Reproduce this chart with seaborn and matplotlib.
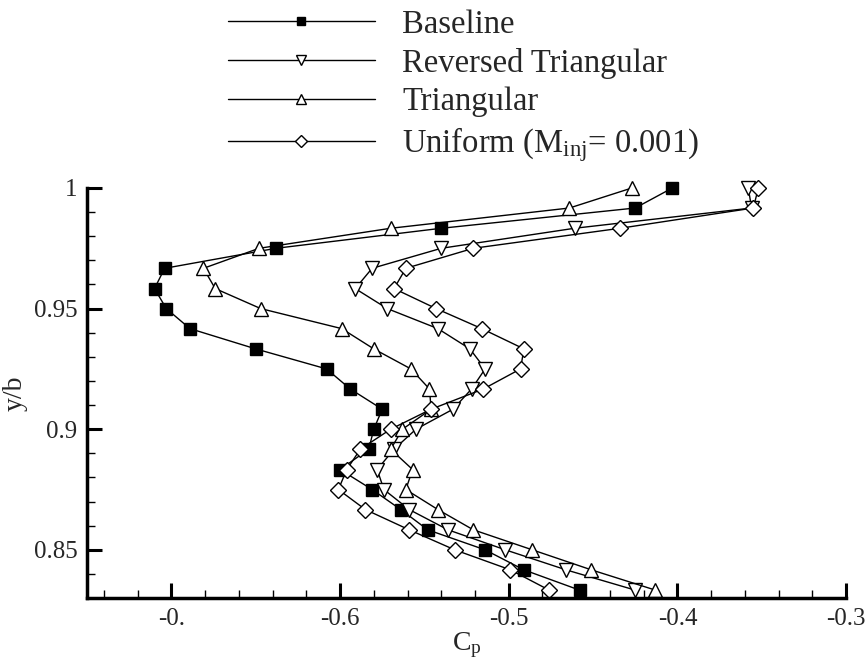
import matplotlib
matplotlib.use("Agg")
import matplotlib.pyplot as plt
import seaborn as sns
import numpy as np
import pandas as pd
from matplotlib.ticker import MultipleLocator, FixedLocator

# ---- data ----
y_b = [1.0, 0.9917, 0.9833, 0.975, 0.9667, 0.9583, 0.95, 0.9417, 0.9333, 0.925,
       0.9167, 0.9083, 0.9, 0.8917, 0.8833, 0.875, 0.8667, 0.8583, 0.85, 0.8417, 0.8333]

cp_baseline = [-0.403, -0.425, -0.540, -0.638, -0.704, -0.710, -0.703, -0.689, -0.650, -0.608,
               -0.594, -0.575, -0.580, -0.583, -0.600, -0.581, -0.564, -0.548, -0.514, -0.491, -0.458]
cp_reversed = [-0.358, -0.356, -0.461, -0.540, -0.581, -0.591, -0.572, -0.542, -0.523, -0.514,
               -0.522, -0.533, -0.555, -0.568, -0.578, -0.574, -0.559, -0.536, -0.502, -0.466, -0.425]
cp_triangular = [-0.427, -0.464, -0.570, -0.648, -0.681, -0.674, -0.647, -0.599, -0.580, -0.558,
                 -0.547, -0.546, -0.563, -0.570, -0.557, -0.561, -0.542, -0.521, -0.486, -0.451, -0.413]
cp_uniform = [-0.352, -0.355, -0.434, -0.521, -0.561, -0.568, -0.543, -0.516, -0.491, -0.493,
              -0.515, -0.546, -0.570, -0.588, -0.596, -0.601, -0.585, -0.559, -0.532, -0.499, -0.476]

series_names = ["Baseline", "Reversed Triangular", "Triangular",
                r"Uniform (M$_{\mathregular{inj}}$= 0.001)"]

x_ticks = [-0.7, -0.6, -0.5, -0.4, -0.3]
x_ticklabels = ["-0.", "-0.6", "-0.5", "-0.4", "-0.3"]
y_ticks = [0.85, 0.9, 0.95, 1.0]
y_ticklabels = ["0.85", "0.9", "0.95", "1"]

# ---- style ----
sns.set_theme(style="white")
plt.rcParams['font.family'] = ['Liberation Serif', 'DejaVu Serif']
plt.rcParams['mathtext.fontset'] = 'custom'
plt.rcParams['mathtext.rm'] = 'Liberation Serif'
plt.rcParams['mathtext.it'] = 'Liberation Serif'

fig = plt.figure(figsize=(8.66, 6.69), dpi=100)
ax = fig.add_axes([0.1005, 0.106, 0.8765, 0.613])

styles = [
    (cp_baseline, 's', 'black', 8.5),
    (cp_reversed, 'v', 'white', 10),
    (cp_triangular, '^', 'white', 10),
    (cp_uniform, 'D', 'white', 8.5),
]

for (vals, mk, fc, ms), name in zip(styles, series_names):
    df = pd.DataFrame({"Cp": vals, "yb": y_b})
    sns.lineplot(data=df, x="Cp", y="yb", sort=False, estimator=None, ax=ax,
                 color="black", linewidth=1.0, marker=mk, markersize=ms,
                 markerfacecolor=fc, markeredgecolor="black", markeredgewidth=1.0,
                 label=name, clip_on=False)

ax.set_xlim(-0.75, -0.3)
ax.set_ylim(0.83, 1.0)

ax.xaxis.set_major_locator(FixedLocator(x_ticks))
ax.set_xticklabels(x_ticklabels)
ax.xaxis.set_minor_locator(MultipleLocator(0.02))
ax.yaxis.set_major_locator(FixedLocator(y_ticks))
ax.set_yticklabels(y_ticklabels)
ax.yaxis.set_minor_locator(MultipleLocator(0.01))

ax.tick_params(axis='both', which='major', direction='in', length=11, width=2.2,
               labelsize=18, color='black', pad=7, bottom=True, left=True)
ax.tick_params(axis='both', which='minor', direction='in', length=6, width=1.0,
               color='black', bottom=True, left=True)

for s in ['top', 'right']:
    ax.spines[s].set_visible(False)
for s in ['left', 'bottom']:
    ax.spines[s].set_linewidth(2.5)
    ax.spines[s].set_color('black')

ax.set_xlabel(r"C$_{\mathregular{p}}$", fontsize=20, labelpad=0)
ax.set_ylabel("y/b", fontsize=20, labelpad=4)

h, l = ax.get_legend_handles_labels()
ax.get_legend().remove()
fig.legend(h, l, loc='upper left', bbox_to_anchor=(0.263, 0.986), frameon=False,
           fontsize=23.5, handlelength=4.5, handletextpad=0.85, labelspacing=0.24,
           markerscale=0.75, borderaxespad=0.0, borderpad=0.0)

fig.savefig("out.png", dpi=100, facecolor='white')
